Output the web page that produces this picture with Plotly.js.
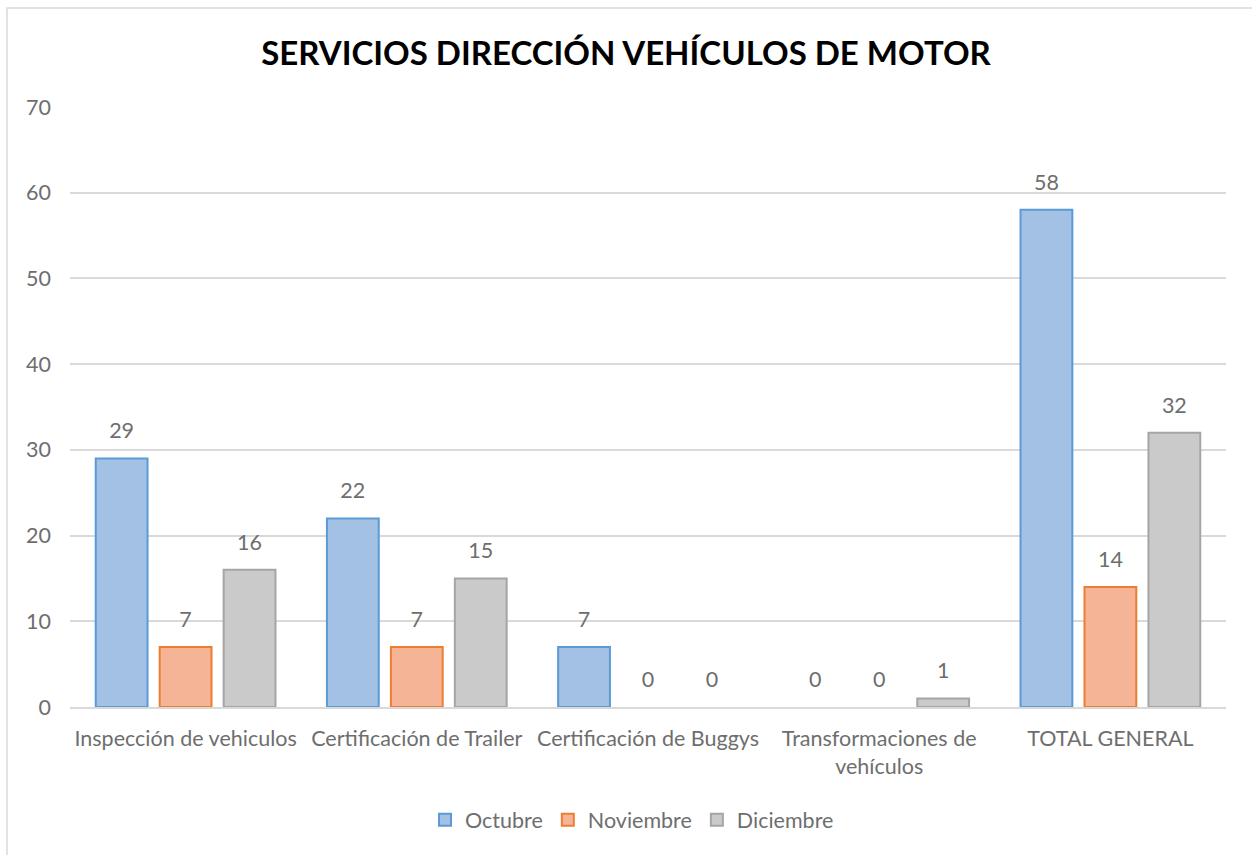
<!DOCTYPE html>
<html>
<head>
<meta charset="utf-8">
<script src="https://cdn.plot.ly/plotly-3.0.1.min.js"></script>
<style>
  body { margin: 0; background: #fff; }
  #chart { width: 1252px; height: 855px; }
</style>
</head>
<body>
<div id="chart"></div>
<script>
// categories and monthly values
var categorias = ['Inspección de vehiculos', 'Certificación de Trailer', 'Certificación de Buggys',
                  'Transformaciones de<br>vehículos', 'TOTAL GENERAL'];
var octubre = [29, 22, 7, 0, 58];
var noviembre = [7, 7, 0, 0, 14];
var diciembre = [16, 15, 0, 1, 32];
var yTicks = [0, 10, 20, 30, 40, 50, 60, 70];

var labelFont = { family: 'Lato, "Open Sans", sans-serif', size: 21.5, color: '#6e6e6e' };

function serie(nombre, valores, relleno, borde, grupo) {
    return {
        x: categorias,
        y: valores,
        name: nombre,
        type: 'bar',
        offsetgroup: grupo,
        hoverinfo: 'y+name',
        marker: {
            color: relleno,
            // no outline on empty bars
            line: { color: borde, width: valores.map(function (v) { return v ? 2 : 0; }) }
        }
    };
}

// value labels, lined up with the bars through the same offset group
function etiquetas(valores, grupo) {
    return {
        x: categorias,
        y: valores,
        type: 'scatter',
        mode: 'markers+text',
        offsetgroup: grupo,
        text: valores,
        textposition: 'top center',
        textfont: labelFont,
        cliponaxis: false,
        marker: { size: 22, opacity: 0 },
        hoverinfo: 'skip',
        showlegend: false
    };
}

var data = [
    serie('Octubre', octubre, '#a3c0e5', '#5b9bd5', 'oct'),
    serie('Noviembre', noviembre, '#f6b496', '#ed7d31', 'nov'),
    serie('Diciembre', diciembre, '#cacaca', '#a5a5a5', 'dic'),
    etiquetas(octubre, 'oct'),
    etiquetas(noviembre, 'nov'),
    etiquetas(diciembre, 'dic')
];

var layout = {
    width: 1252,
    height: 855,
    margin: { l: 70, r: 26, t: 107, b: 148 },
    paper_bgcolor: '#fff',
    plot_bgcolor: '#fff',
    font: labelFont,
    title: {
        text: '<b>SERVICIOS DIRECCIÓN VEHÍCULOS DE MOTOR</b>',
        font: { family: 'Lato, "Open Sans", sans-serif', size: 33, color: '#000' },
        x: 0.5,
        xanchor: 'center',
        y: 1 - 53 / 855,
        yanchor: 'middle'
    },
    barmode: 'group',
    scattermode: 'group',
    bargap: 0.17,
    bargroupgap: 0.19,
    showlegend: true,
    legend: {
        orientation: 'h',
        x: 0.5 - 16 / 1156,
        xanchor: 'center',
        y: -0.188,
        yanchor: 'middle',
        font: labelFont,
        itemwidth: 30
    },
    xaxis: {
        showgrid: false,
        showline: true,
        linecolor: '#d9d9d9',
        linewidth: 2,
        ticks: '',
        ticklabelstandoff: 11,
        tickfont: labelFont
    },
    yaxis: {
        range: [0, 70],
        tickvals: yTicks,
        showgrid: true,
        gridcolor: '#d9d9d9',
        gridwidth: 1.5,
        zeroline: false,
        showline: false,
        ticks: '',
        ticklabelstandoff: 18,
        tickfont: labelFont
    },
    shapes: [{
        type: 'rect',
        xref: 'paper', yref: 'paper',
        x0: -63 / 1156, x1: 1 + 40 / 1156,
        y0: -160 / 600, y1: 1 + 99 / 600,
        line: { color: '#d9d9d9', width: 1.5 },
        layer: 'below'
    }]
};

Plotly.newPlot('chart', data, layout, { displayModeBar: false });
</script>
</body>
</html>
